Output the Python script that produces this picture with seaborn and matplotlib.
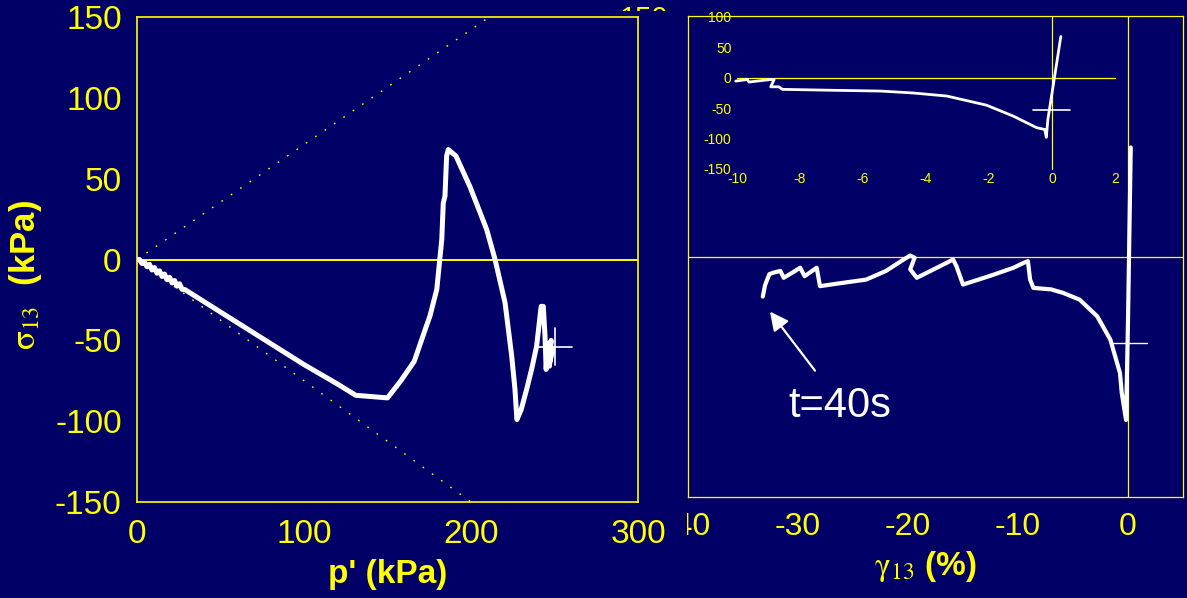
import numpy as np
import pandas as pd
import matplotlib
matplotlib.use("Agg")
import matplotlib.pyplot as plt
from matplotlib.patches import Rectangle
import seaborn as sns

# ---------------- data ----------------
# left panel: stress path  p' (kPa) vs sigma13 (kPa)
p_path = [0, 1.5, 3, 4.5, 6, 7.5, 9, 10.5, 12, 13.5, 15, 16.5, 18, 19.5, 21, 22.5, 24, 25.5,
          27, 28.5, 40, 60, 80, 100, 120, 131,
          150, 158, 166, 172, 175.4, 179.5, 182.5, 183.4, 184.4, 185.4, 186.4, 191, 199.4,
          209.4, 214.4, 220.4, 224.4, 226.3, 227.5, 230, 233.4, 236.5, 239.3, 242, 243.3,
          244.3, 245, 246, 247, 248, 246, 249, 247, 248]
s_path = [0, 0, -2.5, -1.5, -4.5, -3, -6.5, -5, -8.5, -7, -10.5, -9, -12.5, -11, -14.5, -13,
          -16.5, -15, -18.5, -18.5, -26, -39, -52, -65, -77, -84,
          -85.6, -75, -63, -45, -35, -18.6, 12.4, 35, 39, 64, 68, 64, 45,
          18.5, 0, -26.8, -60, -80, -99, -93, -80, -67, -53.6, -29, -29,
          -47, -68, -52, -66, -50, -62, -56, -64, -55]
# failure envelopes (dotted)
env_up_p = [0, 211]
env_up_s = [0, 150]
env_lo_p = [0, 200]
env_lo_s = [0, -150]
# initial state cross (left)
cross_l_p = [250]
cross_l_s = [-54]

# right panel: shear strain gamma13 (%) vs sigma13 (kPa)
g_path = [-33.2, -33.0, -32.8, -32.6, -32.2, -31.6, -31.3, -30.5, -29.8, -29.4, -28.3, -28.0,
          -26.0, -23.8, -22.0, -20.4, -19.8, -19.4, -19.8, -19.2, -16.5, -15.9, -15.6, -15.0,
          -12.5, -10.4, -9.5, -9.1, -8.9, -8.6, -7.0, -5.9, -4.4, -2.8, -1.6, -0.73, -0.57,
          -0.18, 0.0, 0.25]
sg_path = [-25, -18, -14.4, -11, -10, -9, -13.3, -10, -7, -12.3, -7, -18.5,
           -16.5, -14.4, -9, -1.9, 0.6, -0.8, -8, -13.3, -4, -1.9, -6, -17.5,
           -12, -7, -4, -2.9, -14.4, -19.6, -20.5, -22.7, -26.9, -37.3, -51.9, -72.7, -85,
           -102, -40, 68]
cross_r_g = [0.0]
cross_r_s = [-54]

# inset: zoom of the last 10 % of strain
gi_path = [-10.04, -9.67, -9.62, -8.93, -8.82, -8.93, -8.67, -8.56, -7.0, -5.45, -4.4, -3.34,
           -2.08, -1.23, -0.49, -0.23, -0.18, -0.13, 0.085, 0.28]
si_path = [-5.4, -2.8, -7, -2.8, -2.8, -14.8, -14.8, -19, -20.5, -21.8, -25, -30,
           -45, -63, -82, -85, -98, -68, 2.7, 68]
cross_i_g = [0.0]
cross_i_s = [-53.5]

left_xticks = [0, 100, 200, 300]
left_yticks = [-150, -100, -50, 0, 50, 100, 150]
right_xticks = [-40, -30, -20, -10, 0]
right_yticks = [-150, -100, -50, 0, 50, 100, 150]
inset_xticks = [-10, -8, -6, -4, -2, 0, 2]
inset_yticks = [-150, -100, -50, 0, 50, 100]

annot_text = "t=40s"

# ---------------- style ----------------
BG = "#000066"
YEL = "#FFFF00"
WHITE = "#FFFFFF"

sns.set_theme(style="white")
plt.rcParams["font.family"] = ["Liberation Sans", "DejaVu Sans"]
plt.rcParams["mathtext.fontset"] = "stix"
plt.rcParams["axes.facecolor"] = BG
plt.rcParams["figure.facecolor"] = BG

W, H = 1187, 598
fig = plt.figure(figsize=(W / 100, H / 100), dpi=100)
fig.patch.set_facecolor(BG)

def fx(px):
    return px / W

def fy(py):
    return 1 - py / H

# ---------------- right main panel (drawn first, partly hidden) ----------------
axr = fig.add_axes([fx(688), fy(497), fx(1183 - 688), (497 - 16) / H], zorder=0)
axr.set_facecolor(BG)
axr.set_xlim(-40, 5)
axr.set_ylim(-150, 150)
axr.axhline(0, color=YEL, lw=0.9, zorder=1)
axr.axvline(0, color=YEL, lw=0.9, zorder=1)
sns.lineplot(x=g_path, y=sg_path, sort=False, estimator=None, ax=axr,
             color=WHITE, lw=3.0, zorder=3)
axr.plot([cross_r_g[0] - 1.4, cross_r_g[0] + 1.7], [cross_r_s[0]] * 2, color=WHITE, lw=1.0, zorder=4)
axr.set_xticks(right_xticks)
axr.set_yticks(right_yticks)
axr.set_xticklabels([str(t) for t in right_xticks])
axr.set_yticklabels([str(t) for t in right_yticks])
axr.tick_params(axis="x", direction="in", length=7, width=1, color=YEL, labelcolor=YEL,
                labelsize=23, pad=11)
axr.tick_params(axis="y", direction="in", length=11, width=1, color=YEL, labelcolor=YEL,
                labelsize=21, pad=14)
for sp in axr.spines.values():
    sp.set_color(YEL)
    sp.set_linewidth(0.9)
axr.set_xlabel("")
axr.set_ylabel("")
axr.annotate("", xy=(-32.7, -33), xytext=(-28.3, -72.6),
             arrowprops=dict(arrowstyle="-|>", color=WHITE, lw=1.6, mutation_scale=28))

# mask hiding the right panel's y tick labels (as in the original slide)
fig.patches.append(Rectangle((0, 0), fx(687), fy(11), transform=fig.transFigure,
                             facecolor=BG, edgecolor="none", zorder=0.5))

# ---------------- left panel ----------------
axl = fig.add_axes([fx(137), fy(502), fx(638 - 137), (502 - 17) / H], zorder=1)
axl.set_facecolor(BG)
axl.set_xlim(0, 300)
axl.set_ylim(-150, 150)
axl.axhline(0, color=YEL, lw=1.4, zorder=1)
axl.plot(env_up_p, env_up_s, color=YEL, lw=1.0, ls=(0, (1.2, 7)), zorder=1)
axl.plot(env_lo_p, env_lo_s, color=YEL, lw=1.0, ls=(0, (1.2, 7)), zorder=1)
sns.lineplot(x=p_path, y=s_path, sort=False, estimator=None, ax=axl,
             color=WHITE, lw=3.6, zorder=3)
axl.plot([cross_l_p[0] - 10.5, cross_l_p[0] + 10.5], [cross_l_s[0]] * 2, color=WHITE, lw=1.2, zorder=4)
axl.plot([cross_l_p[0]] * 2, [cross_l_s[0] + 11.5, cross_l_s[0] - 11.5], color=WHITE, lw=1.2, zorder=4)
axl.set_xticks(left_xticks)
axl.set_xticks([50, 150, 250], minor=True)
axl.set_yticks(left_yticks)
axl.set_xticklabels([str(t) for t in left_xticks])
axl.set_yticklabels([str(t) for t in left_yticks])
axl.tick_params(axis="x", which="major", direction="in", length=12, width=1, color=YEL,
                labelcolor=YEL, labelsize=24, pad=12)
axl.tick_params(axis="x", which="minor", direction="in", length=6, width=1, color=YEL)
axl.tick_params(axis="y", direction="in", length=12, width=1, color=YEL, labelcolor=YEL,
                labelsize=24, pad=11)
for sp in axl.spines.values():
    sp.set_color(YEL)
    sp.set_linewidth(1.2)
axl.set_xlabel("")
axl.set_ylabel("")

# ---------------- inset ----------------
axi = fig.add_axes([fx(737), fy(169), fx(1115 - 737), (169 - 17) / H], zorder=2)
axi.patch.set_alpha(0)
axi.set_xlim(-10, 2)
axi.set_ylim(-150, 100)
axi.axhline(0, color=YEL, lw=0.9, zorder=1)
axi.axvline(0, color=YEL, lw=0.9, zorder=1)
sns.lineplot(x=gi_path, y=si_path, sort=False, estimator=None, ax=axi,
             color=WHITE, lw=2.0, zorder=3)
for l in axi.lines:
    l.set_clip_on(False)
axi.plot([cross_i_g[0] - 0.6, cross_i_g[0] + 0.56], [cross_i_s[0]] * 2, color=WHITE, lw=1.2, zorder=4)
axi.set_xticks(inset_xticks)
axi.set_yticks(inset_yticks)
axi.set_xticklabels([str(t) for t in inset_xticks])
axi.set_yticklabels([str(t) for t in inset_yticks])
axi.tick_params(axis="both", length=0, labelcolor=YEL, labelsize=10)
axi.tick_params(axis="x", pad=2)
axi.tick_params(axis="y", pad=4)
for sp in axi.spines.values():
    sp.set_visible(False)
axi.set_xlabel("")
axi.set_ylabel("")

# ---------------- labels ----------------
fig.text(fx(26), fy(275), r"$\mathrm{\sigma}_{\mathrm{13}}$  (kPa)", rotation=90, ha="center",
         va="center", color=YEL, fontsize=25, fontweight="bold")
fig.text(fx(388), fy(575), "p' (kPa)", ha="center", va="center",
         color=YEL, fontsize=24, fontweight="bold")
fig.text(fx(925), fy(567), r"$\mathrm{\gamma}_{\mathrm{13}}$ (%)", ha="center", va="center",
         color=YEL, fontsize=24, fontweight="bold")
fig.text(fx(788), fy(417), annot_text, ha="left", va="baseline", color=WHITE, fontsize=30)

fig.savefig("out.png", dpi=100, facecolor=BG)
